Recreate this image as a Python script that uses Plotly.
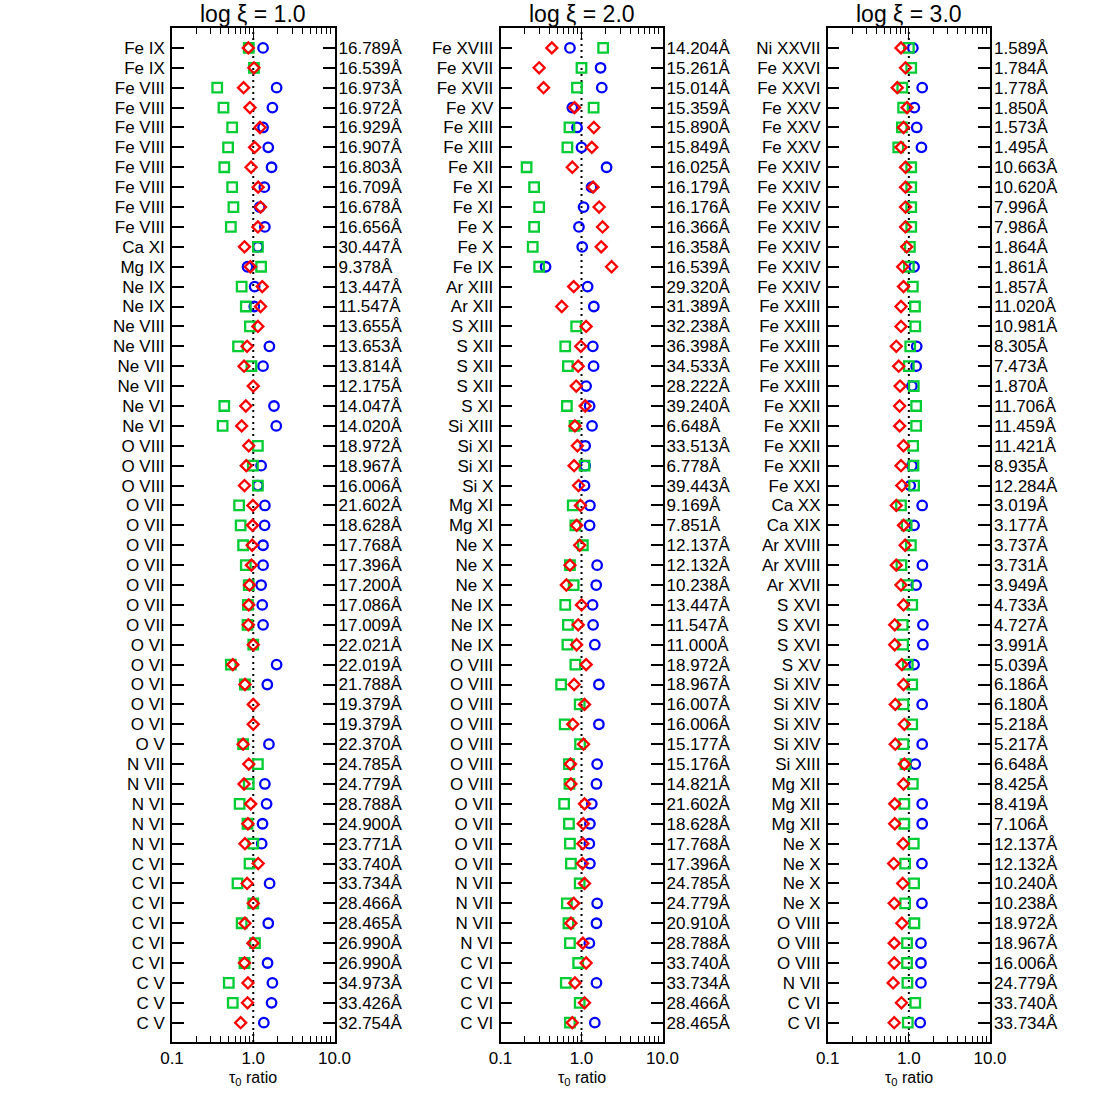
import plotly.graph_objects as go

# colours / fonts
BLUE = "#0000FF"
RED = "#FF0000"
GREEN = "#00CC33"
FONT = "Liberation Sans, Arial, sans-serif"

titles = ["log ξ = 1.0", "log ξ = 2.0", "log ξ = 3.0"]

# panel 1 : log xi = 1.0
ions_1 = ["Fe IX", "Fe IX", "Fe VIII", "Fe VIII", "Fe VIII", "Fe VIII", "Fe VIII", "Fe VIII", "Fe VIII", "Fe VIII",
          "Ca XI", "Mg IX", "Ne IX", "Ne IX", "Ne VIII", "Ne VIII", "Ne VII", "Ne VII", "Ne VI", "Ne VI",
          "O VIII", "O VIII", "O VIII", "O VII", "O VII", "O VII", "O VII", "O VII", "O VII", "O VII",
          "O VI", "O VI", "O VI", "O VI", "O VI", "O V", "N VII", "N VII", "N VI", "N VI",
          "N VI", "C VI", "C VI", "C VI", "C VI", "C VI", "C VI", "C V", "C V", "C V"]
wave_1 = ["16.789", "16.539", "16.973", "16.972", "16.929", "16.907", "16.803", "16.709", "16.678", "16.656",
          "30.447", "9.378", "13.447", "11.547", "13.655", "13.653", "13.814", "12.175", "14.047", "14.020",
          "18.972", "18.967", "16.006", "21.602", "18.628", "17.768", "17.396", "17.200", "17.086", "17.009",
          "22.021", "22.019", "21.788", "19.379", "19.379", "22.370", "24.785", "24.779", "28.788", "24.900",
          "23.771", "33.740", "33.734", "28.466", "28.465", "26.990", "26.990", "34.973", "33.426", "32.754"]
circ_1 = [1.32, None, 1.94, 1.72, 1.32, 1.53, 1.68, 1.37, 1.20, 1.39,
          1.14, 0.85, 1.04, 1.03, None, 1.58, 1.32, None, 1.80, 1.92,
          None, 1.25, 1.14, 1.39, 1.38, 1.32, 1.32, 1.25, 1.29, 1.32,
          None, 1.94, 1.49, None, None, 1.56, None, 1.39, 1.46, 1.30,
          1.27, None, 1.59, None, 1.53, None, 1.50, 1.72, 1.68, 1.35]
diam_1 = [0.87, 1.02, 0.76, 0.91, 1.21, 1.04, 0.94, 1.15, 1.23, 1.14,
          0.78, 0.92, 1.29, 1.23, 1.14, 0.84, 0.77, 1.00, 0.81, 0.72,
          0.88, 0.82, 0.78, 0.99, 0.98, 0.97, 0.95, 0.90, 0.88, 0.87,
          1.00, 0.56, 0.79, 1.00, 1.00, 0.75, 0.88, 0.77, 0.93, 0.86,
          0.79, 1.15, 0.84, 1.00, 0.79, 0.99, 0.78, 0.86, 0.85, 0.70]
squa_1 = [0.88, 1.02, 0.36, 0.43, 0.55, 0.49, 0.44, 0.55, 0.57, 0.53,
          1.14, 1.25, 0.72, 0.81, 0.91, 0.65, 0.95, None, 0.44, 0.42,
          1.14, 0.99, 1.14, 0.67, 0.70, 0.75, 0.81, 0.88, 0.86, 0.85,
          1.00, 0.53, 0.79, None, None, 0.75, 1.14, 0.88, 0.68, 0.85,
          1.00, 0.90, 0.64, 1.00, 0.72, 1.05, 0.78, 0.50, 0.56, None]

# panel 2 : log xi = 2.0
ions_2 = ["Fe XVIII", "Fe XVII", "Fe XVII", "Fe XV", "Fe XIII", "Fe XIII", "Fe XII", "Fe XI", "Fe XI", "Fe X",
          "Fe X", "Fe IX", "Ar XIII", "Ar XII", "S XIII", "S XII", "S XII", "S XII", "S XI", "Si XIII",
          "Si XI", "Si XI", "Si X", "Mg XI", "Mg XI", "Ne X", "Ne X", "Ne X", "Ne IX", "Ne IX",
          "Ne IX", "O VIII", "O VIII", "O VIII", "O VIII", "O VIII", "O VIII", "O VIII", "O VII", "O VII",
          "O VII", "O VII", "N VII", "N VII", "N VII", "N VI", "C VI", "C VI", "C VI", "C VI"]
wave_2 = ["14.204", "15.261", "15.014", "15.359", "15.890", "15.849", "16.025", "16.179", "16.176", "16.366",
          "16.358", "16.539", "29.320", "31.389", "32.238", "36.398", "34.533", "28.222", "39.240", "6.648",
          "33.513", "6.778", "39.443", "9.169", "7.851", "12.137", "12.132", "10.238", "13.447", "11.547",
          "11.000", "18.972", "18.967", "16.007", "16.006", "15.177", "15.176", "14.821", "21.602", "18.628",
          "17.768", "17.396", "24.785", "24.779", "20.910", "28.788", "33.740", "33.734", "28.466", "28.465"]
circ_2 = [0.72, 1.72, 1.78, 0.77, 0.88, 1.00, 2.04, 1.33, 1.06, 0.93,
          1.02, 0.36, 1.19, 1.42, None, 1.38, 1.41, 1.14, 1.26, 1.35,
          1.11, 1.11, 1.09, 1.27, 1.26, None, 1.56, 1.52, 1.37, 1.39,
          1.46, None, 1.64, None, 1.64, None, 1.56, 1.53, 1.34, 1.27,
          1.25, 1.27, None, 1.56, 1.53, 1.25, None, 1.53, None, 1.46]
diam_2 = [0.43, 0.30, 0.34, 0.82, 1.42, 1.34, 0.77, 1.39, 1.65, 1.82,
          1.75, 2.35, 0.80, 0.57, 1.14, 0.98, 0.91, 0.86, 1.11, 0.83,
          0.89, 0.81, 0.92, 0.97, 0.87, 0.95, 0.72, 0.65, 1.00, 0.91,
          0.87, 1.14, 0.81, 1.09, 0.78, 1.06, 0.73, 0.74, 1.09, 1.05,
          1.04, 1.03, 1.09, 0.80, 0.74, 1.04, 1.14, 0.83, 1.09, 0.77]
squa_2 = [1.85, 1.00, 0.88, 1.41, 0.71, 0.67, 0.21, 0.26, 0.30, 0.26,
          0.25, 0.30, None, None, 0.86, 0.63, 0.68, None, 0.66, 0.82,
          None, 1.09, None, 0.78, 0.84, 1.04, 0.72, 0.80, 0.63, 0.68,
          0.67, 0.84, 0.56, 0.95, 0.62, 0.96, 0.70, 0.71, 0.61, 0.70,
          0.72, 0.74, 0.95, 0.66, 0.69, 0.72, 0.91, 0.64, 0.95, 0.72]

# panel 3 : log xi = 3.0
ions_3 = ["Ni XXVII", "Fe XXVI", "Fe XXVI", "Fe XXV", "Fe XXV", "Fe XXV", "Fe XXIV", "Fe XXIV", "Fe XXIV", "Fe XXIV",
          "Fe XXIV", "Fe XXIV", "Fe XXIV", "Fe XXIII", "Fe XXIII", "Fe XXIII", "Fe XXIII", "Fe XXIII", "Fe XXII", "Fe XXII",
          "Fe XXII", "Fe XXII", "Fe XXI", "Ca XX", "Ca XIX", "Ar XVIII", "Ar XVIII", "Ar XVII", "S XVI", "S XVI",
          "S XVI", "S XV", "Si XIV", "Si XIV", "Si XIV", "Si XIV", "Si XIII", "Mg XII", "Mg XII", "Mg XII",
          "Ne X", "Ne X", "Ne X", "Ne X", "O VIII", "O VIII", "O VIII", "N VII", "C VI", "C VI"]
wave_3 = ["1.589", "1.784", "1.778", "1.850", "1.573", "1.495", "10.663", "10.620", "7.996", "7.986",
          "1.864", "1.861", "1.857", "11.020", "10.981", "8.305", "7.473", "1.870", "11.706", "11.459",
          "11.421", "8.935", "12.284", "3.019", "3.177", "3.737", "3.731", "3.949", "4.733", "4.727",
          "3.991", "5.039", "6.186", "6.180", "5.218", "5.217", "6.648", "8.425", "8.419", "7.106",
          "12.137", "12.132", "10.240", "10.238", "18.972", "18.967", "16.006", "24.779", "33.740", "33.734"]
circ_3 = [1.12, None, 1.46, 1.17, 1.25, 1.43, None, None, None, None,
          None, 1.16, None, None, None, 1.25, 1.23, 1.09, None, None,
          None, 1.09, 1.04, 1.46, 1.16, None, 1.47, 1.23, None, 1.49,
          1.49, 1.16, None, 1.46, None, 1.46, 1.20, None, 1.46, 1.46,
          None, 1.45, None, 1.45, None, 1.41, 1.41, 1.41, None, 1.38]
diam_3 = [0.80, 0.91, 0.72, 0.95, 0.86, 0.80, 0.91, 0.91, 0.91, 0.91,
          0.94, 0.84, 0.86, 0.80, 0.80, 0.70, 0.75, 0.78, 0.77, 0.77,
          0.86, 0.80, 0.82, 0.70, 0.86, 0.90, 0.70, 0.80, 0.86, 0.67,
          0.67, 0.82, 0.86, 0.68, 0.88, 0.68, 0.88, 0.86, 0.67, 0.67,
          0.85, 0.65, 0.84, 0.66, 0.82, 0.66, 0.66, 0.64, 0.81, 0.66]
squa_3 = [1.00, 1.07, 0.83, 0.85, 0.82, 0.74, 1.07, 1.07, 1.07, 1.07,
          1.03, 1.00, 1.12, 1.19, 1.20, 1.04, 1.00, 1.15, 1.23, 1.23,
          1.13, 1.14, 1.16, 0.80, 0.94, 1.06, 0.81, 0.97, 1.10, 0.84,
          0.85, 0.97, 1.10, 0.86, 1.10, 0.86, 0.91, 1.12, 0.88, 0.88,
          1.15, 0.90, 1.16, 0.90, 1.17, 0.95, 0.95, 0.96, 1.20, 0.97]

panels = [
    (ions_1, wave_1, circ_1, diam_1, squa_1),
    (ions_2, wave_2, circ_2, diam_2, squa_2),
    (ions_3, wave_3, circ_3, diam_3, squa_3),
]

# layout geometry in page pixels (body margin is removed below)
W = 1100
x_px = [(172, 334.5), (500.5, 662.5), (827.7, 990)]
x_domains = [[a / W, b / W] for a, b in x_px]
y_domain = [1 - 1042 / W, 1 - 28 / W]

fig = go.Figure()

for k, (ions, waves, circ, diam, squa) in enumerate(panels):
    n = k + 1
    rows = list(range(len(ions)))
    xref = "x" if n == 1 else f"x{n}"
    yref = "y" if n == 1 else f"y{n}"
    yref_r = f"y{n + 3}"

    fig.add_trace(go.Scatter(x=circ, y=rows, mode="markers", xaxis=xref, yaxis=yref,
                             marker=dict(symbol="circle-open", size=9.5, color=BLUE, line=dict(width=2.3)),
                             showlegend=False, hoverinfo="x"))
    fig.add_trace(go.Scatter(x=squa, y=rows, mode="markers", xaxis=xref, yaxis=yref,
                             marker=dict(symbol="square-open", size=9.5, color=GREEN, line=dict(width=2.3)),
                             showlegend=False, hoverinfo="x"))
    fig.add_trace(go.Scatter(x=diam, y=rows, mode="markers", xaxis=xref, yaxis=yref,
                             marker=dict(symbol="diamond-open", size=8.5, color=RED, line=dict(width=2.3)),
                             showlegend=False, hoverinfo="x"))
    # invisible trace so the right-hand wavelength axis is drawn
    fig.add_trace(go.Scatter(x=[1], y=[0], mode="markers", xaxis=xref, yaxis=yref_r,
                             marker=dict(opacity=0), showlegend=False, hoverinfo="skip"))

    xa = dict(
        domain=x_domains[k], anchor=yref, type="log", range=[-1, 1], automargin=False,
        tickmode="array", tickvals=[0.1, 1, 10], ticktext=["0.1", "1.0", "10.0"],
        ticks="inside", ticklen=10, tickwidth=1, tickcolor="black",
        minor=dict(ticks="inside", ticklen=6, tickwidth=1, tickcolor="black",
                   tickmode="array",
                   tickvals=[0.2, 0.3, 0.4, 0.5, 0.6, 0.7, 0.8, 0.9, 2, 3, 4, 5, 6, 7, 8, 9],
                   showgrid=False),
        showline=True, linecolor="black", linewidth=1.5, mirror="ticks",
        showgrid=False, zeroline=False,
        tickfont=dict(family=FONT, size=17, color="black"),
    )
    ya = dict(
        domain=y_domain, anchor=xref, range=[49.97, -1.0], automargin=False,
        tickmode="array", tickvals=rows, ticktext=ions,
        ticks="inside", ticklen=12, tickwidth=1.5, tickcolor="black",
        showline=True, linecolor="black", linewidth=1.5, mirror=True,
        showgrid=False, zeroline=False, ticklabelstandoff=2,
        tickfont=dict(family=FONT, size=17, color="black"),
    )
    yr = dict(
        domain=y_domain, anchor=xref, overlaying=yref, side="right", range=[49.97, -1.0],
        automargin=False,
        tickmode="array", tickvals=rows, ticktext=[w + "Å" for w in waves],
        ticks="inside", ticklen=12, tickwidth=1.5, tickcolor="black",
        showline=False, showgrid=False, zeroline=False, ticklabelstandoff=3,
        tickfont=dict(family=FONT, size=17, color="black"),
    )
    fig.update_layout({
        ("xaxis" if n == 1 else f"xaxis{n}"): xa,
        ("yaxis" if n == 1 else f"yaxis{n}"): ya,
        f"yaxis{n + 3}": yr,
    })

    # dotted line at ratio 1
    fig.add_shape(type="line", xref=xref, yref=f"{yref} domain", x0=1, x1=1, y0=0, y1=1,
                  line=dict(color="black", width=2, dash="2px,4px"), layer="below")

    # panel title
    fig.add_annotation(text=titles[k], xref=f"{xref} domain", yref="paper", x=0.5, y=1.0,
                       xanchor="center", yanchor="top", showarrow=False, borderpad=0,
                       font=dict(family=FONT, size=23, color="black"))
    # x axis title
    fig.add_annotation(text="τ<sub>0</sub> ratio", xref=f"{xref} domain", yref="paper", x=0.5,
                       y=1 - 1078 / W, xanchor="center", yanchor="middle", showarrow=False,
                       font=dict(family=FONT, size=16, color="black"))

fig.update_layout(
    width=1100,
    height=1100,
    margin=dict(l=0, r=0, t=0, b=0),
    paper_bgcolor="white",
    plot_bgcolor="white",
    font=dict(family=FONT, color="black"),
    showlegend=False,
)

# drop the default 8 px page margin so the figure sits at the window origin
fig.write_html("out.html", config={"displayModeBar": False},
               post_script="document.body.style.margin = '0';")
